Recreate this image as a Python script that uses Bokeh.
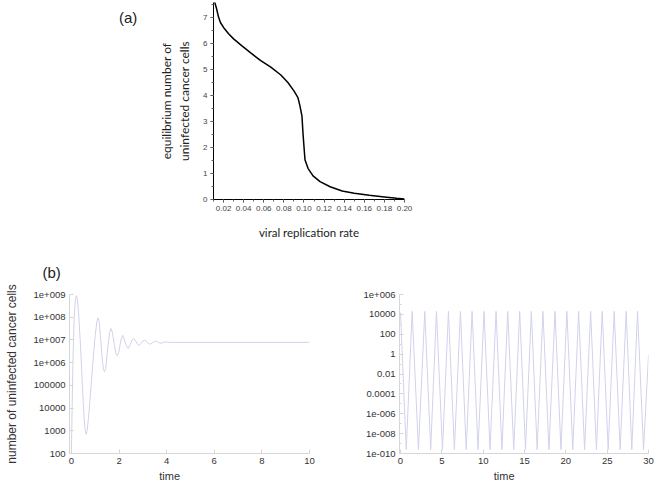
from bokeh.plotting import figure
from bokeh.layouts import column, row
from bokeh.models import FixedTicker, CustomJSTickFormatter, Range1d, Div
from bokeh.embed import file_html
from bokeh.resources import INLINE

# ---------------- data: panel (a) ----------------
replication_rate = [0.011, 0.013, 0.015, 0.017, 0.020, 0.025, 0.030, 0.038, 0.047, 0.057,
                    0.067, 0.077, 0.084, 0.090, 0.094, 0.096, 0.098, 0.099, 0.100, 0.101,
                    0.104, 0.109, 0.116, 0.126, 0.138, 0.150, 0.165, 0.180, 0.192, 0.200]
equilibrium_cells = [7.62, 7.35, 7.02, 6.80, 6.62, 6.38, 6.18, 5.92, 5.64, 5.34,
                     5.09, 4.79, 4.50, 4.18, 3.92, 3.60, 3.21, 2.56, 2.04, 1.53,
                     1.20, 0.91, 0.69, 0.49, 0.33, 0.24, 0.16, 0.10, 0.05, 0.02]
a_xticks = [0.02, 0.04, 0.06, 0.08, 0.10, 0.12, 0.14, 0.16, 0.18, 0.20]
a_xtick_labels = ["0.02", "0.04", "0.06", "0.08", "0.10", "0.12", "0.14", "0.16", "0.18", "0.20"]
a_yticks = [0, 1, 2, 3, 4, 5, 6, 7]

# ---------------- data: panel (b) left ----------------
time_left = [0.0, 0.03, 0.07, 0.12, 0.17, 0.21, 0.25, 0.30, 0.38, 0.46,
             0.53, 0.58, 0.62, 0.66, 0.72, 0.80, 0.90, 1.00, 1.07, 1.12,
             1.17, 1.23, 1.30, 1.35, 1.39, 1.44, 1.52, 1.60, 1.66, 1.72,
             1.80, 1.87, 1.93, 1.99, 2.07, 2.15, 2.22, 2.30, 2.39, 2.47,
             2.55, 2.62, 2.70, 2.78, 2.85, 2.93, 3.00, 3.08, 3.16, 3.24,
             3.31, 3.39, 3.46, 3.54, 3.62, 3.70, 3.77, 3.85, 3.92, 4.00,
             4.10, 4.30, 10.0]
cells_left = [1e2, 1e4, 2e6, 1e8, 6.3e8, 8.9e8, 6.3e8, 1.6e8, 6.3e6, 1e5,
              4e3, 1e3, 7e2, 1e3, 4e3, 4e4, 1e6, 1.6e7, 6.3e7, 9.3e7,
              6.3e7, 1e7, 1.26e6, 5e5, 4e5, 5.6e5, 4e6, 2e7, 3.2e7, 2.2e7,
              6.3e6, 2.5e6, 2e6, 2.8e6, 8.9e6, 1.6e7, 1.1e7, 5.6e6, 4.2e6, 6.3e6,
              1e7, 1.15e7, 8.9e6, 6.3e6, 5.8e6, 7.1e6, 8.9e6, 9.8e6, 8.5e6, 6.9e6,
              6.5e6, 7.2e6, 8.3e6, 8.7e6, 8.1e6, 7.4e6, 7.2e6, 7.6e6, 8.1e6, 8.1e6,
              7.8e6, 7.8e6, 7.8e6]
left_yticks = [1e2, 1e3, 1e4, 1e5, 1e6, 1e7, 1e8, 1e9]
left_ytick_labels = ["100", "1000", "10000", "100000", "1e+006", "1e+007", "1e+008", "1e+009"]
left_xticks = [0, 2, 4, 6, 8, 10]

# ---------------- data: panel (b) right ----------------
time_right = [0.0, 0.70, 1.41, 2.17, 2.94, 3.65, 4.35, 5.08, 5.80, 6.52,
              7.25, 7.95, 8.66, 9.38, 10.11, 10.83, 11.56, 12.27, 12.97, 13.70,
              14.42, 15.12, 15.83, 16.53, 17.23, 17.96, 18.69, 19.41, 20.13, 20.84,
              21.55, 22.27, 23.00, 23.70, 24.40, 25.12, 25.85, 26.57, 27.30, 27.98,
              28.67, 29.40, 30.0]
cells_right = [1.5e4, 2.5e-10, 2e4, 2.5e-10, 2e4, 2.5e-10, 2e4, 2.5e-10, 2e4, 2.5e-10,
               2e4, 2.5e-10, 2e4, 2.5e-10, 2e4, 2.5e-10, 2e4, 2.5e-10, 2e4, 2.5e-10,
               2e4, 2.5e-10, 2e4, 2.5e-10, 2e4, 2.5e-10, 2e4, 2.5e-10, 2e4, 2.5e-10,
               2e4, 2.5e-10, 2e4, 2.5e-10, 2e4, 2.5e-10, 2e4, 2.5e-10, 2e4, 2.5e-10,
               2e4, 2.5e-10, 0.8]
right_yticks = [1e-10, 1e-8, 1e-6, 1e-4, 1e-2, 1, 1e2, 1e4, 1e6]
right_ytick_labels = ["1e-010", "1e-008", "1e-006", "0.0001", "0.01", "1", "100", "10000", "1e+006"]
right_yminor = [1e-9, 1e-7, 1e-5, 1e-3, 1e-1, 1e1, 1e3, 1e5]
right_xticks = [0, 5, 10, 15, 20, 25, 30]

LINE_B = "#d2d2ea"
AXIS_B = "#d6d6d6"
TXT_B = "#333333"
SANS = "Liberation Sans"
NBSP = "\u00a0"

log_code = """
const lt = Math.log10(tick);
for (let i = 0; i < tvals.length; i++) {
  if (Math.abs(Math.log10(tvals[i]) - lt) < 1e-6) { return tlabels[i]; }
}
return "";
"""

# ---------------- panel (a) ----------------
div_a = Div(text='<div style="margin:0; padding:9px 0 0 119px; font-family:\'Liberation Sans\'; '
                 'font-size:15px; line-height:17px; color:#222222;">(a)</div>',
            width=150, height=245, margin=0)
pa = figure(width=506, height=245, output_backend="svg", toolbar_location=None,
            x_range=Range1d(0.01, 0.2), y_range=Range1d(0, 7.58),
            min_border_left=63, min_border_right=252, min_border_top=2, min_border_bottom=46)
pa.line(replication_rate, equilibrium_cells, line_color="black", line_width=1.5)
pa.grid.visible = False
pa.outline_line_color = None
pa.xaxis.ticker = FixedTicker(ticks=a_xticks, minor_ticks=[0.01 + 0.01 * i for i in range(20)])
pa.xaxis.major_label_overrides = {t: s for t, s in zip(a_xticks, a_xtick_labels)}
pa.yaxis.ticker = FixedTicker(ticks=a_yticks, minor_ticks=[0.5 * i for i in range(16)])
for ax in (pa.xaxis[0], pa.yaxis[0]):
    ax.axis_line_color = "black"
    ax.major_tick_line_color = "#444444"
    ax.minor_tick_line_color = "#666666"
    ax.major_tick_out = 3
    ax.major_tick_in = 0
    ax.minor_tick_out = 2
    ax.minor_tick_in = 0
    ax.major_label_text_font = SANS
    ax.major_label_text_font_size = "8px"
    ax.major_label_text_color = "#444444"
    ax.axis_label_text_font = "Lato"
    ax.axis_label_text_font_style = "normal"
    ax.axis_label_text_color = "#222222"
pa.xaxis.axis_label_text_font_size = "11.5px"
pa.yaxis.axis_label_text_font_size = "12px"
pa.xaxis.major_label_standoff = 3
pa.yaxis.major_label_standoff = 3
pa.xaxis.axis_label = "viral replication rate"
pa.xaxis.axis_label_standoff = 12
pa.yaxis.axis_label = "equilibrium number of\nuninfected cancer cells"
pa.yaxis.axis_label_standoff = 8

# ---------------- panel (b) left ----------------
pb1 = figure(width=330, height=239, output_backend="svg", toolbar_location=None,
             y_axis_type="log", x_range=Range1d(-0.08, 10), y_range=Range1d(100, 1e9),
             min_border_left=69, min_border_right=21, min_border_top=49, min_border_bottom=30)
pb1.line(time_left, cells_left, line_color=LINE_B, line_width=1)
pb1.yaxis.ticker = FixedTicker(ticks=left_yticks)
pb1.yaxis.formatter = CustomJSTickFormatter(args=dict(tvals=left_yticks, tlabels=left_ytick_labels), code=log_code)
pb1.xaxis.ticker = FixedTicker(ticks=left_xticks)
pb1.yaxis.axis_label = "number of uninfected cancer cells"
pb1.title.text = "(b)"
pb1.title.text_font = SANS
pb1.title.text_font_size = "15px"
pb1.title.text_font_style = "normal"
pb1.title.text_color = "#222222"
pb1.title.offset = -27
pb1.title.standoff = 27

# ---------------- panel (b) right ----------------
pb2 = figure(width=326, height=239, output_backend="svg", toolbar_location=None,
             y_axis_type="log", x_range=Range1d(-0.12, 30), y_range=Range1d(1e-10, 1e6),
             min_border_left=69, min_border_right=8, min_border_top=43, min_border_bottom=31)
pb2.line(time_right, cells_right, line_color=LINE_B, line_width=1)
pb2.yaxis.ticker = FixedTicker(ticks=right_yticks, minor_ticks=right_yminor)
pb2.yaxis.formatter = CustomJSTickFormatter(args=dict(tvals=right_yticks, tlabels=right_ytick_labels), code=log_code)
pb2.xaxis.ticker = FixedTicker(ticks=right_xticks)

for p in (pb1, pb2):
    p.grid.visible = False
    p.outline_line_color = None
    p.xaxis.axis_label = "time" + NBSP * 13
    p.xaxis.axis_label_standoff = 3
    for ax in (p.xaxis[0], p.yaxis[0]):
        ax.axis_line_color = AXIS_B
        ax.major_tick_line_color = AXIS_B
        ax.minor_tick_line_color = AXIS_B
        ax.major_tick_in = 4
        ax.major_tick_out = 0
        ax.minor_tick_in = 2
        ax.minor_tick_out = 0
        ax.major_label_text_font = SANS
        ax.major_label_text_font_size = "9.5px"
        ax.major_label_text_color = TXT_B
        ax.major_label_standoff = 4
        ax.axis_label_text_font = SANS
        ax.axis_label_text_font_size = "11px"
        ax.axis_label_text_font_style = "normal"
        ax.axis_label_text_color = TXT_B

pb1.yaxis.axis_label_text_font_size = "12px"
pb1.yaxis.axis_label_standoff = 12

layout = column(row(div_a, pa), row(pb1, pb2))
open("out.html", "w").write(file_html(layout, INLINE))
